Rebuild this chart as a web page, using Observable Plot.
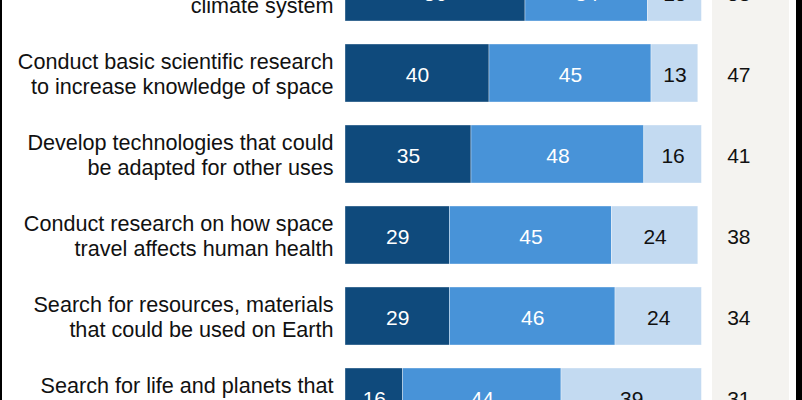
<!DOCTYPE html>
<html>
<head>
<meta charset="utf-8">
<script src="https://cdn.jsdelivr.net/npm/d3@7"></script>
<script src="https://cdn.jsdelivr.net/npm/@observablehq/plot@0.6"></script>
<style>
  html, body { margin: 0; padding: 0; background: #fff; }
  #wrap { position: relative; width: 802px; height: 400px; overflow: hidden; }
  #panel { position: absolute; left: 712px; top: 0; width: 77px; height: 400px; background: #f4f3f0; }
  #lb { position: absolute; left: 0; top: 0; width: 2px; height: 400px; background: #000; }
  #rb { position: absolute; left: 796px; top: 0; width: 6px; height: 400px; background: #000; }
  #chart { position: absolute; left: 0; top: 0; }
  #chart svg { background: transparent; }
</style>
</head>
<body>
<div id="wrap">
  <div id="panel"></div>
  <div id="chart"></div>
  <div id="lb"></div>
  <div id="rb"></div>
</div>
<script>
const labels = [
  "Monitor key parts of the Earth's\nclimate system",
  "Conduct basic scientific research\nto increase knowledge of space",
  "Develop technologies that could\nbe adapted for other uses",
  "Conduct research on how space\ntravel affects human health",
  "Search for resources, materials\nthat could be used on Earth",
  "Search for life and planets that\ncould support life"
];
const topPriority  = [50, 40, 35, 29, 29, 16];
const important    = [34, 45, 48, 45, 46, 44];
const notImportant = [15, 13, 16, 24, 24, 39];
const rightValues  = [58, 47, 41, 38, 34, 31];
const seriesNames  = ["Top priority", "Important but lower priority", "Not too/Not at all important"];
const seriesColors = ["#0f4a7c", "#4893d8", "#c3daf1"];

const seriesValues = [topPriority, important, notImportant];
const rows = labels.flatMap((label, i) =>
  seriesNames.map((type, s) => ({label, type, value: seriesValues[s][i]}))
);

const font = "'Liberation Sans', Arial, sans-serif";

const chart = Plot.plot({
  width: 802,
  height: 400,
  margin: 0,
  style: {fontFamily: font, background: "transparent"},
  x: {domain: [0, 100], range: [345, 705], axis: null},
  y: {domain: labels, range: [-60.4, 449.3], padding: 0.285, axis: null},
  color: {domain: seriesNames, range: seriesColors},
  marks: [
    Plot.barX(rows, {x: "value", y: "label", fill: "type", stroke: "#ffffff", strokeWidth: 0.6, strokeOpacity: 0.6}),
    Plot.text(rows, Plot.stackX({
      x: "value", y: "label", z: "type",
      text: d => String(d.value),
      fill: d => d.type === seriesNames[2] ? "#111" : "#fff",
      fontSize: 21, dy: 2
    })),
    Plot.text(labels, {
      x: () => 0, y: d => d, text: d => d,
      textAnchor: "end", dx: -12, fontSize: 21.6, lineHeight: 1.16, fill: "#111"
    }),
    Plot.text(labels, {
      y: d => d, text: (d, i) => String(rightValues[i]),
      frameAnchor: "right", dx: -52, fontSize: 21, dy: 2, fill: "#111"
    })
  ]
});
document.getElementById("chart").appendChild(chart);
</script>
</body>
</html>
